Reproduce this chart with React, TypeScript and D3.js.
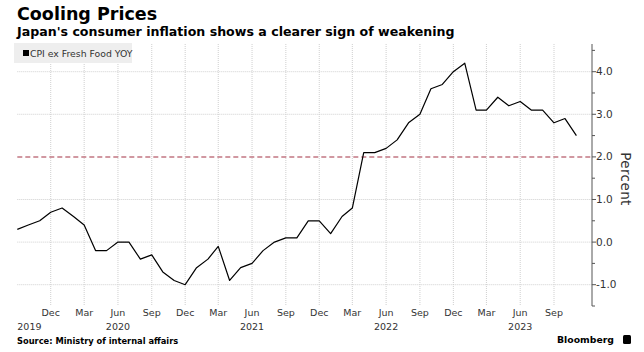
import React, { useEffect, useRef } from 'react';
import * as d3 from 'd3';

// monthly CPI ex fresh food, YoY %, Sep 2019 .. Nov 2023
const startMonth = '2019-09';
const cpiValues = [
  0.3, 0.4, 0.5, 0.7,
  0.8, 0.6, 0.4, -0.2, -0.2, 0.0, 0.0, -0.4, -0.3, -0.7, -0.9, -1.0,
  -0.6, -0.4, -0.1, -0.9, -0.6, -0.5, -0.2, 0.0, 0.1, 0.1, 0.5, 0.5,
  0.2, 0.6, 0.8, 2.1, 2.1, 2.2, 2.4, 2.8, 3.0, 3.6, 3.7, 4.0,
  4.2, 3.1, 3.1, 3.4, 3.2, 3.3, 3.1, 3.1, 2.8, 2.9, 2.5,
];
const yTicks = [-1, 0, 1, 2, 3, 4];
const targetLevel = 2;
const yearLabels = ['2019', '2020', '2021', '2022', '2023'];

const W = 644;
const H = 352;

const App = () => {
  const ref = useRef<SVGGElement>(null);

  useEffect(() => {
    const svg = d3.select(ref.current);
    svg.selectAll('*').remove();

    const parse = d3.timeParse('%Y-%m');
    const t0 = parse(startMonth) as Date;
    const data = cpiValues.map((v, i) => ({ date: d3.timeMonth.offset(t0, i), v }));

    const left = 17.3;
    const axisX = 592;
    const top = 44;
    const bottom = 306;

    const x = d3.scaleTime()
      .domain([t0, d3.timeMonth.offset(t0, 48)])
      .range([left, 554]);
    const y = d3.scaleLinear().domain([-1.5, 4.65]).range([bottom, top]);

    const font = 'DejaVu Sans, Verdana, sans-serif';

    // vertical grid every quarter from Dec 2019 (Dec / Mar / Jun / Sep)
    const gridMonths = d3.range(1, 17).map((i) => d3.timeMonth.offset(t0, i * 3));
    svg.append('g')
      .selectAll('line')
      .data(gridMonths)
      .enter().append('line')
      .attr('x1', (d) => x(d)).attr('x2', (d) => x(d))
      .attr('y1', top).attr('y2', bottom)
      .attr('stroke', '#cfcfcf')
      .attr('stroke-dasharray', '1,1');

    // horizontal grid
    svg.append('g')
      .selectAll('line')
      .data(yTicks.filter((t) => t !== targetLevel))
      .enter().append('line')
      .attr('x1', left).attr('x2', axisX)
      .attr('y1', (d) => y(d)).attr('y2', (d) => y(d))
      .attr('stroke', '#cfcfcf')
      .attr('stroke-dasharray', '1,1');

    // 2% line
    svg.append('line')
      .attr('x1', left).attr('x2', axisX)
      .attr('y1', y(targetLevel)).attr('y2', y(targetLevel))
      .attr('stroke', '#c27782')
      .attr('stroke-width', 1.5)
      .attr('stroke-dasharray', '5,3');

    // legend
    svg.append('rect')
      .attr('x', 14).attr('y', 43).attr('width', 118).attr('height', 20)
      .attr('fill', '#eeeeee');
    svg.append('rect')
      .attr('x', 23).attr('y', 50).attr('width', 6).attr('height', 6)
      .attr('fill', '#000');
    svg.append('text')
      .attr('x', 30).attr('y', 56.5)
      .attr('font-family', font).attr('font-size', 9.3)
      .attr('fill', '#333')
      .text('CPI ex Fresh Food YOY');

    // series
    const line = d3.line<{ date: Date; v: number }>()
      .x((d) => x(d.date))
      .y((d) => y(d.v));
    svg.append('path')
      .datum(data)
      .attr('d', line)
      .attr('fill', 'none')
      .attr('stroke', '#000')
      .attr('stroke-width', 1.2)
      .attr('stroke-linejoin', 'round');

    // right axis
    const axis = svg.append('g').attr('transform', `translate(${axisX},0)`);
    axis.append('line')
      .attr('y1', top).attr('y2', bottom)
      .attr('stroke', '#555');
    const minor = d3.range(-1.5, 4.6, 0.5).filter((t) => !yTicks.includes(t));
    axis.selectAll('.minor')
      .data(minor)
      .enter().append('line')
      .attr('x1', 0).attr('x2', 3)
      .attr('y1', (d) => y(d)).attr('y2', (d) => y(d))
      .attr('stroke', '#555');
    axis.selectAll('.major')
      .data(yTicks)
      .enter().append('line')
      .attr('x1', 0).attr('x2', 4)
      .attr('y1', (d) => y(d)).attr('y2', (d) => y(d))
      .attr('stroke', '#555');
    axis.selectAll('text')
      .data(yTicks)
      .enter().append('text')
      .attr('x', 4)
      .attr('y', (d) => y(d) + 3.6)
      .attr('font-family', font).attr('font-size', 10.5)
      .attr('fill', '#333')
      .text((d) => d3.format('.1f')(d).replace('−', '-'));

    svg.append('text')
      .attr('transform', `translate(621,${(top + bottom) / 2 + 4}) rotate(90)`)
      .attr('text-anchor', 'middle')
      .attr('font-family', font).attr('font-size', 13.5)
      .attr('letter-spacing', 0.4)
      .attr('fill', '#333')
      .text('Percent');

    // month labels
    svg.append('g')
      .selectAll('text')
      .data(gridMonths)
      .enter().append('text')
      .attr('x', (d) => x(d))
      .attr('y', 316)
      .attr('text-anchor', 'middle')
      .attr('font-family', font).attr('font-size', 9.5)
      .attr('fill', '#333')
      .text((d) => d3.timeFormat('%b')(d));

    // year labels under June (first one pinned left)
    svg.append('g')
      .selectAll('text')
      .data(yearLabels)
      .enter().append('text')
      .attr('x', (d, i) => (i === 0 ? left : x(new Date(+d, 5, 1))))
      .attr('y', 330)
      .attr('text-anchor', (d, i) => (i === 0 ? 'start' : 'middle'))
      .attr('font-family', font).attr('font-size', 9.5)
      .attr('fill', '#333')
      .text((d) => d);
  }, []);

  return (
    <svg width={W} height={H} style={{ position: 'absolute', left: 0, top: 0, background: '#fff' }}>
      <text x={17} y={20} fontFamily="DejaVu Sans, sans-serif" fontWeight="bold" fontSize={17.5} fill="#000">
        Cooling Prices
      </text>
      <text x={17} y={36} fontFamily="DejaVu Sans, sans-serif" fontWeight="bold" fontSize={12.6} fill="#000">
        Japan's consumer inflation shows a clearer sign of weakening
      </text>
      <g ref={ref} />
      <text x={17} y={344} fontFamily="DejaVu Sans, sans-serif" fontWeight="bold" fontSize={8.3} fill="#000">
        Source: Ministry of internal affairs
      </text>
      <text x={557} y={343} fontFamily="DejaVu Sans, sans-serif" fontWeight="bold" fontSize={9.3} fill="#000">
        Bloomberg
      </text>
      <rect x={623} y={335} width={8} height={9} rx={1.5} fill="#000" />
    </svg>
  );
};

export default App;
